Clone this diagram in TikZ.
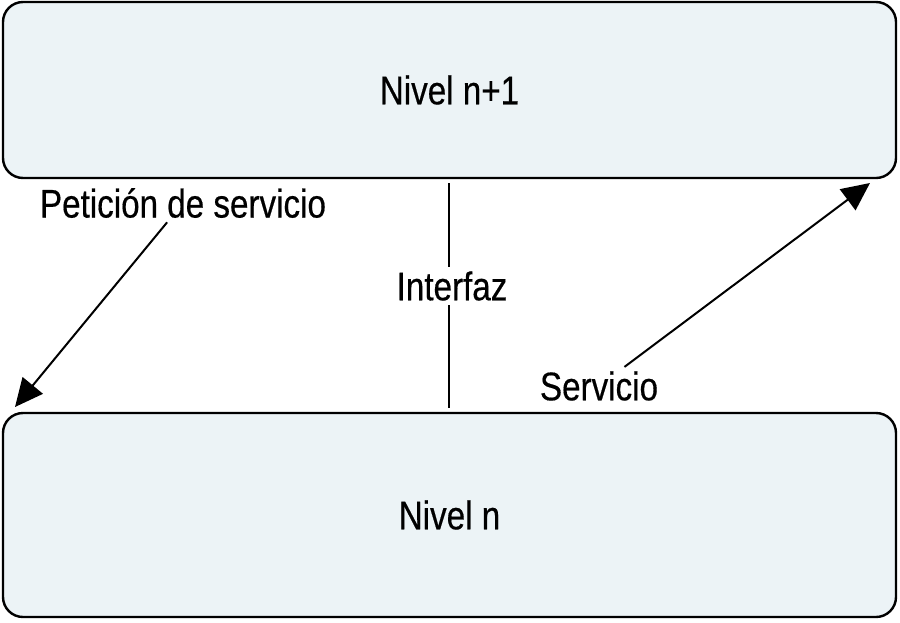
\documentclass[tikz,border=0pt]{standalone}
\usepackage{fontspec}
\setmainfont[FakeStretch=0.83, FakeBold=0.4]{Liberation Sans}
\usetikzlibrary{arrows.meta}
\definecolor{layerfill}{RGB}{236,243,246}

\begin{document}
\begin{tikzpicture}[x=0.5pt, y=-0.5pt,
    layer/.style={draw, line width=1.2pt, rounded corners=10pt, fill=layerfill,
        minimum width=446.5pt, font=\fontsize{20}{24}\selectfont},
    tag/.style={fill=white, inner sep=2pt, font=\fontsize{20}{24}\selectfont},
    arr/.style={line width=1pt, -{Triangle[length=14pt, width=13pt]}}]

    \useasboundingbox (0, 0) rectangle (900, 622);

    % Layers
    \node[layer, minimum height=88pt] (upper) at (449.5, 90) {Nivel n+1};
    \node[layer, minimum height=102pt] (lower) at (449.5, 515) {Nivel n};

    % Interface
    \coordinate (ifupper) at (449, 183);
    \coordinate (iflower) at (449, 408);
    \draw[line width=1pt] (ifupper) -- (iflower);
    \node[tag] (iface) at (452, 286) {Interfaz};

    % Service request
    \node[tag] (request) at (183, 203) {Petición de servicio};
    \coordinate (reqtip) at (15, 407);
    \draw[arr] (request) -- (reqtip);

    % Service
    \node[tag] (service) at (599, 386) {Servicio};
    \coordinate (servtip) at (870, 183);
    \draw[arr] (service) -- (servtip);

\end{tikzpicture}
\end{document}
